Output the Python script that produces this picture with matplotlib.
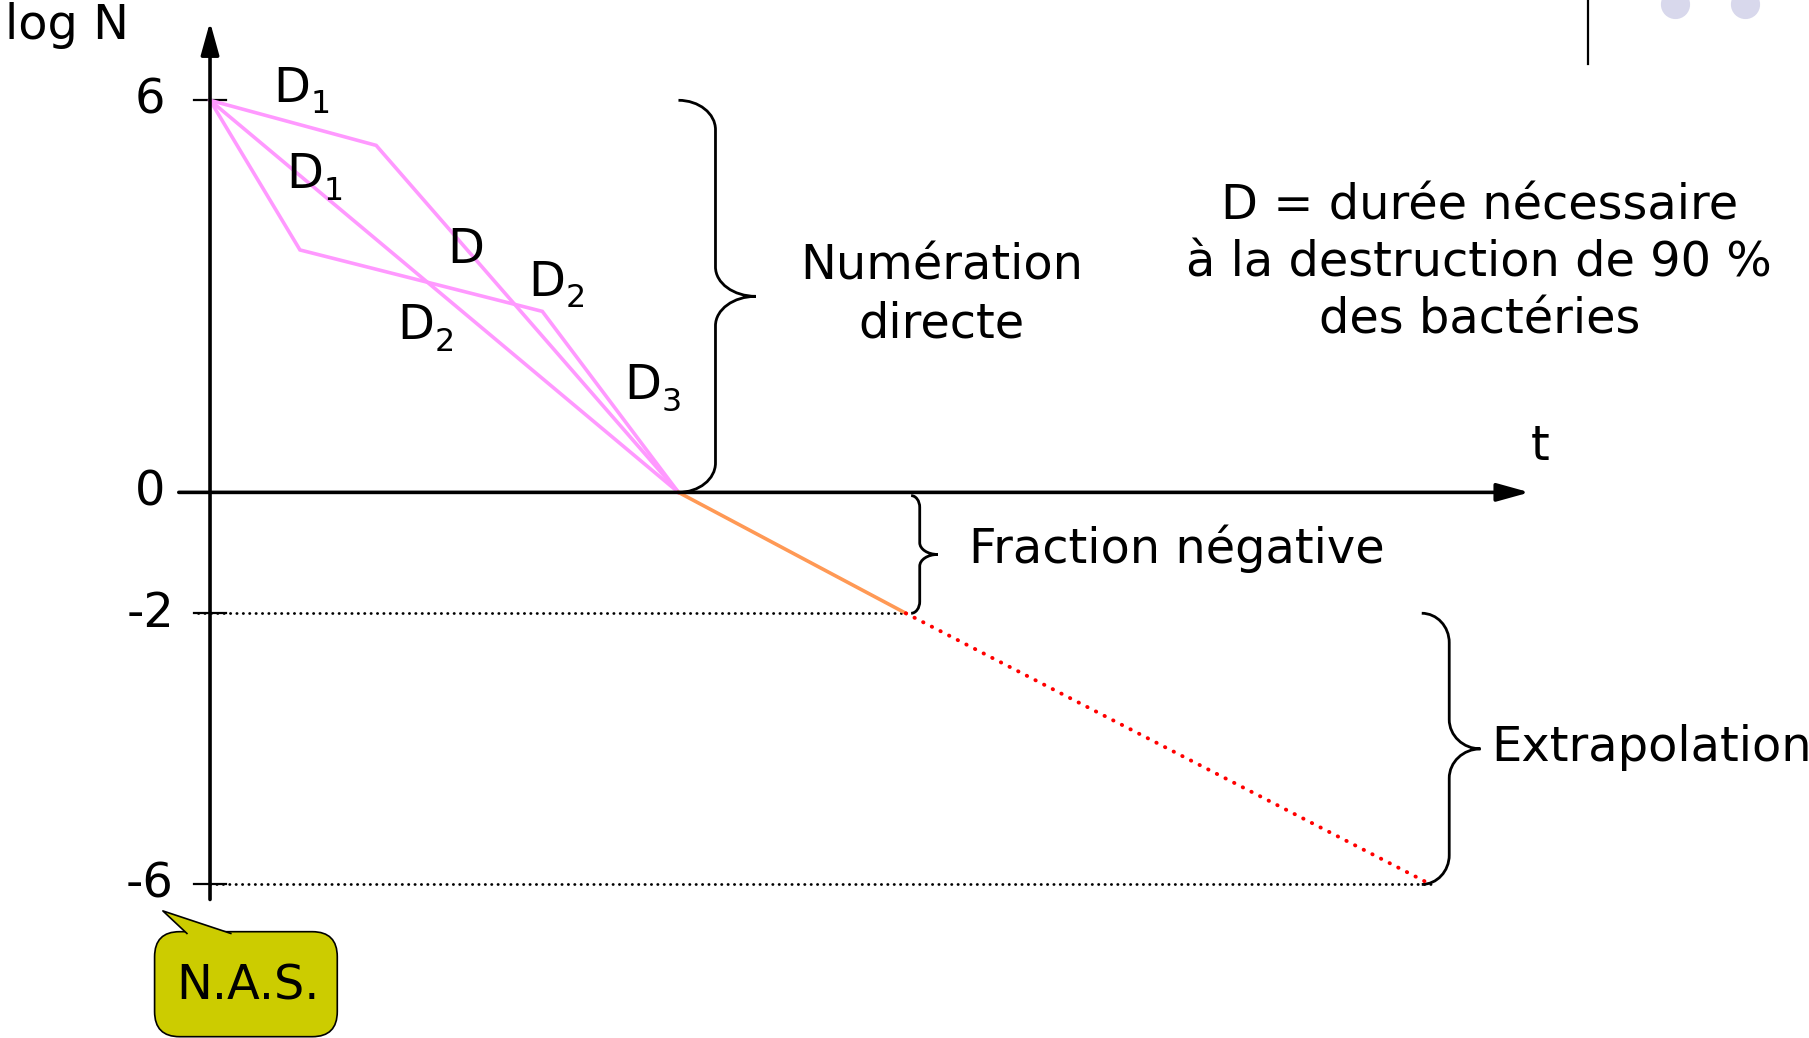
import matplotlib
matplotlib.use("Agg")
from matplotlib import pyplot as plt
from matplotlib.path import Path
from matplotlib.patches import PathPatch, FancyBboxPatch, Polygon
import numpy as np

plt.rcParams['font.family'] = ['DejaVu Sans']

# courbes de survie (t, log N)
t_courbe_haute = [0.0, 1.064, 3.0]
y_courbe_haute = [6.0, 5.31, 0.0]
t_droite = [0.0, 3.0]
y_droite = [6.0, 0.0]
t_courbe_basse = [0.0, 0.576, 2.128, 3.0]
y_courbe_basse = [6.0, 3.71, 2.77, 0.0]

# fraction negative et extrapolation
t_fraction = [3.0, 4.456]
y_fraction = [0.0, -1.85]
t_extrap = [4.456, 7.818]
y_extrap = [-1.85, -6.0]

# graduations de l'axe log N
yticks_pos = [6.0, 0.0, -1.85, -6.0]
yticks_lab = ['6', '0', '-2', '-6']

# etiquettes D (lettre, indice, t, log N de la ligne de base)
etiquettes_d = [
    ('D', '1', 0.406, 5.98),
    ('D', '1', 0.488, 4.66),
    ('D', '', 1.522, 3.515),
    ('D', '2', 2.039, 3.01),
    ('D', '2', 1.197, 2.35),
    ('D', '3', 2.653, 1.43),
]

fig = plt.figure(figsize=(18.09, 10.38), dpi=100)
ax = fig.add_axes([0, 0, 1, 1])
ax.set_xlim(-1.345, 10.24)
ax.set_ylim(-8.35, 7.535)
ax.axis('off')

fs = 34.5
rose = '#FF99FF'

# axes avec fleches
ax.annotate('', xy=(0, 7.2), xytext=(0, -6.23),
            arrowprops=dict(arrowstyle='-|>,head_length=0.9,head_width=0.25',
                            lw=2.6, color='black', mutation_scale=22, shrinkA=0, shrinkB=0))
ax.annotate('', xy=(8.45, 0), xytext=(-0.2, 0),
            arrowprops=dict(arrowstyle='-|>,head_length=0.9,head_width=0.25',
                            lw=2.6, color='black', mutation_scale=22, shrinkA=0, shrinkB=0))
for yp, lab in zip(yticks_pos, yticks_lab):
    if yp != 0:
        ax.plot([-0.1, 0.1], [yp, yp], color='black', lw=1.6)
    ax.text(-0.384, yp, lab, fontsize=fs, ha='center', va='center')

ax.text(-1.31, 7.15, 'log N', fontsize=fs, ha='left', va='center')
ax.text(8.52, 0.7, 't', fontsize=fs, ha='center', va='center')

# pointilles horizontaux
ax.plot([-0.08, t_fraction[1]], [y_fraction[1], y_fraction[1]], color='black', lw=2.0,
        linestyle=(0, (0.1, 2.2)), dash_capstyle='round')
ax.plot([0.0, t_extrap[1]], [y_extrap[1], y_extrap[1]], color='black', lw=2.0,
        linestyle=(0, (0.1, 2.2)), dash_capstyle='round')

ax.plot(t_courbe_haute, y_courbe_haute, color=rose, lw=2.6, solid_joinstyle='miter')
ax.plot(t_droite, y_droite, color=rose, lw=2.6)
ax.plot(t_courbe_basse, y_courbe_basse, color=rose, lw=2.6, solid_joinstyle='miter')
ax.plot(t_fraction, y_fraction, color='#FF9955', lw=2.6)
ax.plot(t_extrap, y_extrap, color='#FF0000', lw=2.8,
        linestyle=(0, (0.1, 2.4)), dash_capstyle='round')

for lettre, indice, tx, ty in etiquettes_d:
    ax.text(tx, ty, lettre, fontsize=fs, ha='left', va='baseline')
    if indice:
        ax.annotate(indice, xy=(tx, ty), xytext=(27, -8.5), textcoords='offset points',
                    fontsize=fs * 0.66, ha='left', va='baseline')


def accolade(x0, xv, xt, y_haut, y_bas, r):
    k = 0.5523
    ym = (y_haut + y_bas) / 2
    verts = [
        (x0, y_haut),
        (x0 + k * (xv - x0), y_haut), (xv, y_haut - r + k * r), (xv, y_haut - r),
        (xv, ym + r),
        (xv, ym + r - k * r), (xt - k * (xt - xv), ym), (xt, ym),
        (xt - k * (xt - xv), ym), (xv, ym - r + k * r), (xv, ym - r),
        (xv, y_bas + r),
        (xv, y_bas + r - k * r), (x0 + k * (xv - x0), y_bas), (x0, y_bas),
    ]
    codes = [Path.MOVETO] + [Path.CURVE4] * 3 + [Path.LINETO] + [Path.CURVE4] * 6 + \
            [Path.LINETO] + [Path.CURVE4] * 3
    ax.add_patch(PathPatch(Path(verts, codes), fill=False, lw=2.0, color='black'))


accolade(3.0, 3.237, 3.495, 6.0, 0.0, 0.45)
accolade(4.49, 4.545, 4.66, -0.05, -1.85, 0.18)
accolade(7.76, 7.936, 8.136, -1.85, -6.0, 0.45)

ax.text(4.685, 3.02, 'Numération\ndirecte', fontsize=fs, ha='center', va='center',
        linespacing=1.28)
ax.text(8.128, 3.51, 'D = durée nécessaire\nà la destruction de 90 %\ndes bactéries',
        fontsize=fs, ha='center', va='center', linespacing=1.28)
ax.text(4.862, -0.86, 'Fraction négative', fontsize=fs, ha='left', va='center')
ax.text(8.202, -3.9, 'Extrapolation', fontsize=fs, ha='left', va='center')

# bulle N.A.S.
jaune = '#CCCC00'
ax.add_patch(FancyBboxPatch((-0.355, -8.33), 1.17, 1.607,
                            boxstyle='round,pad=0,rounding_size=0.16',
                            mutation_aspect=2.4, facecolor=jaune, edgecolor='black', lw=1.2))
queue = [(-0.148, -6.75), (-0.302, -6.405), (0.133, -6.75)]
ax.add_patch(Polygon(queue, closed=False, facecolor=jaune, edgecolor='none'))
ax.plot([q[0] for q in queue], [q[1] for q in queue], color='black', lw=1.2)
ax.text(0.244, -7.553, 'N.A.S.', fontsize=fs, ha='center', va='center')

# decor en haut a droite
ax.plot([8.823, 8.823], [7.6, 6.56], color='black', lw=1.6)
ax.plot([9.385, 9.828], [7.48, 7.48], 'o', color='#D8D8EC', ms=20, clip_on=False)

fig.savefig('out.png', dpi=100)
